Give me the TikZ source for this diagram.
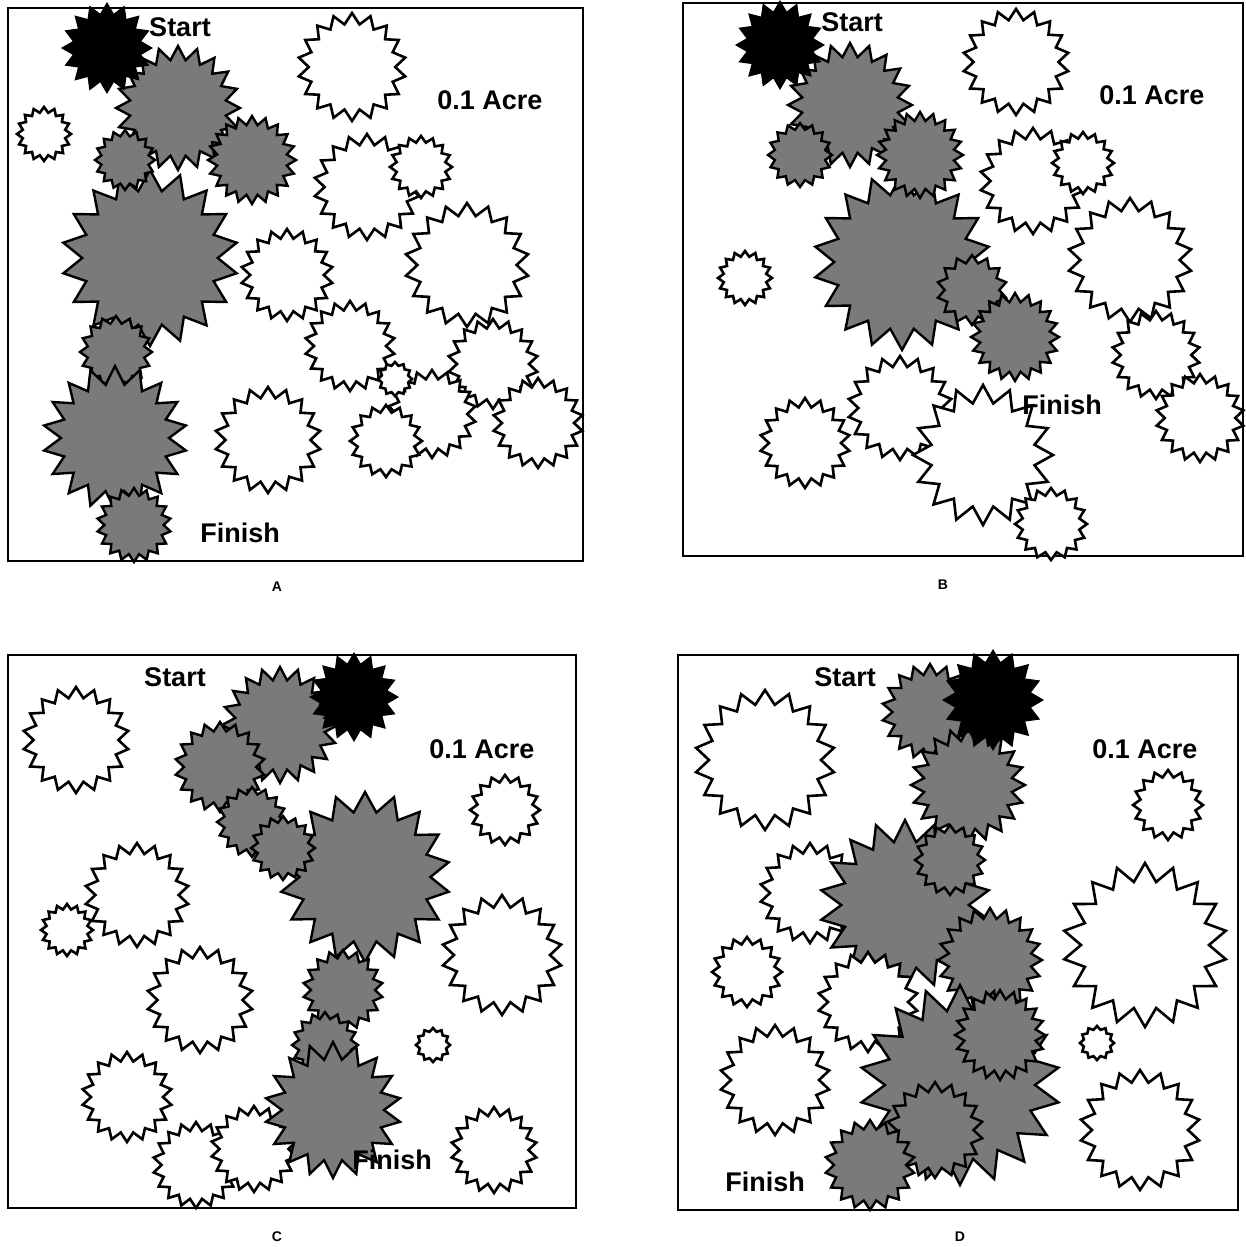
\documentclass[tikz,border=0pt]{standalone}
\usepackage{fontspec}
\setmainfont{Liberation Sans}
\newcommand\burst[6][0.8]{%
  \pgfmathtruncatemacro\bN{2*#5}%
  \draw[#6] plot[samples at={0,...,\bN}, variable=\k]
    ({#2+#4*(1-(1-#1)*mod(\k,2))*cos(\k*180/#5+90)},
     {#3+#4*(1-(1-#1)*mod(\k,2))*sin(\k*180/#5+90)}) -- cycle;}
\tikzset{
  wb/.style={draw=black, line width=2.6pt, fill=white, line join=miter},
  gb/.style={draw=black, line width=2.4pt, fill=black!52, line join=miter},
  bb/.style={draw=black, line width=1pt, fill=black},
  frame/.style={draw=black, line width=2pt},
  lab/.style={font=\bfseries\fontsize{27}{30}\selectfont, inner sep=0pt},
  panellab/.style={font=\bfseries\fontsize{14}{16}\selectfont, inner sep=0pt}
}
\begin{document}
\begin{tikzpicture}[x=1pt, y=-1pt]
\useasboundingbox[fill=white] (0,0) rectangle (1245,1247);
% ---------------- Panel A ----------------
\draw[frame] (8,8) rectangle (583,561);
\burst{44}{134}{27}{16}{wb}
\burst{352}{67}{54}{18}{wb}
\burst{367}{187}{53}{18}{wb}
\burst{421}{167}{31}{16}{wb}
\burst{467}{265}{62}{18}{wb}
\burst{287}{275}{46}{18}{wb}
\burst{350}{346}{45}{18}{wb}
\burst{493}{364}{45}{18}{wb}
\burst{432}{414}{44}{18}{wb}
\burst{395}{379}{17}{12}{wb}
\burst{386}{441}{36}{16}{wb}
\burst{538}{423}{45}{18}{wb}
\burst{268}{440}{53}{18}{wb}
\burst[0.77]{150}{258}{88}{18}{gb}
\burst[0.78]{178}{108}{62}{20}{gb}
\burst[0.8]{125}{160}{30}{16}{gb}
\burst[0.8]{252}{160}{44}{20}{gb}
\burst[0.8]{116}{352}{36}{16}{gb}
\burst[0.75]{115}{438}{72}{18}{gb}
\burst[0.8]{134}{525}{37}{18}{gb}
\burst[0.76]{107}{48}{45}{16}{bb}
\node[lab] (startA) at (180,27) {Start};
\node[lab] (acreA) at (490,100) {0.1 Acre};
\node[lab] (finishA) at (240,533) {Finish};
\node[panellab] (capA) at (277,587) {A};
% ---------------- Panel B ----------------
\draw[frame] (683,3) rectangle (1243,556);
\burst{745}{278}{27}{16}{wb}
\burst{1016}{62}{53}{18}{wb}
\burst{1033}{181}{53}{18}{wb}
\burst{1083}{163}{31}{16}{wb}
\burst{1130}{260}{62}{18}{wb}
\burst{1156}{355}{44}{18}{wb}
\burst{1200}{418}{44}{18}{wb}
\burst{900}{408}{52}{18}{wb}
\burst{805}{443}{45}{18}{wb}
\burst[0.75]{983}{455}{70}{16}{wb}
\burst{1051}{524}{36}{16}{wb}
\burst[0.77]{902}{262}{88}{18}{gb}
\burst[0.78]{850}{105}{62}{20}{gb}
\burst[0.8]{800}{155}{32}{16}{gb}
\burst[0.8]{920}{155}{43}{20}{gb}
\burst[0.78]{972}{290}{35}{14}{gb}
\burst[0.8]{1015}{337}{44}{20}{gb}
\burst[0.76]{780}{45}{44}{16}{bb}
\node[lab] (startB) at (852,22) {Start};
\node[lab] (acreB) at (1152,95) {0.1 Acre};
\node[lab] (finishB) at (1062,405) {Finish};
\node[panellab] (capB) at (943,585) {B};
% ---------------- Panel C ----------------
\draw[frame] (8,655) rectangle (576,1208);
\burst{76}{740}{53}{18}{wb}
\burst{505}{810}{35}{16}{wb}
\burst{137}{895}{52}{18}{wb}
\burst{67}{930}{26}{16}{wb}
\burst{502}{955}{60}{18}{wb}
\burst{200}{1000}{53}{18}{wb}
\burst{433}{1045}{17}{12}{wb}
\burst{127}{1097}{45}{18}{wb}
\burst{494}{1150}{43}{18}{wb}
\burst{196}{1165}{43}{18}{wb}
\burst{254}{1149}{43}{18}{wb}
\burst[0.77]{365}{877}{85}{18}{gb}
\burst[0.78]{280}{725}{58}{20}{gb}
\burst[0.8]{220}{767}{45}{18}{gb}
\burst[0.8]{252}{822}{35}{16}{gb}
\burst[0.8]{283}{848}{32}{16}{gb}
\burst[0.8]{343}{990}{40}{18}{gb}
\burst[0.8]{325}{1045}{33}{16}{gb}
\burst[0.75]{333}{1110}{68}{18}{gb}
\burst[0.76]{354}{697}{44}{16}{bb}
\node[lab] (finishC) at (392,1160) {Finish};
\node[lab] (startC) at (175,677) {Start};
\node[lab] (acreC) at (482,749) {0.1 Acre};
\node[panellab] (capC) at (277,1237) {C};
% ---------------- Panel D ----------------
\draw[frame] (678,655) rectangle (1238,1210);
\burst{765}{760}{70}{18}{wb}
\burst{810}{893}{50}{18}{wb}
\burst{1168}{805}{35}{16}{wb}
\burst[0.78]{1145}{945}{82}{18}{wb}
\burst{747}{972}{35}{16}{wb}
\burst{775}{1080}{55}{18}{wb}
\burst{1097}{1043}{17}{12}{wb}
\burst{1140}{1130}{60}{18}{wb}
\burst[0.78]{930}{712}{48}{18}{gb}
\burst[0.78]{968}{785}{57}{20}{gb}
\burst[0.75]{905}{905}{85}{18}{gb}
\burst[0.8]{950}{860}{35}{16}{gb}
\burst[0.8]{990}{960}{52}{20}{gb}
\burst{868}{1002}{50}{18}{wb}
\burst[0.75]{960}{1085}{100}{18}{gb}
\burst[0.8]{1000}{1035}{45}{20}{gb}
\burst[0.8]{935}{1130}{48}{18}{gb}
\burst[0.8]{870}{1165}{45}{18}{gb}
\burst[0.76]{993}{700}{50}{16}{bb}
\node[lab] (startD) at (845,677) {Start};
\node[lab] (acreD) at (1145,749) {0.1 Acre};
\node[lab] (finishD) at (765,1182) {Finish};
\node[panellab] (capD) at (960,1237) {D};
\end{tikzpicture}
\end{document}
